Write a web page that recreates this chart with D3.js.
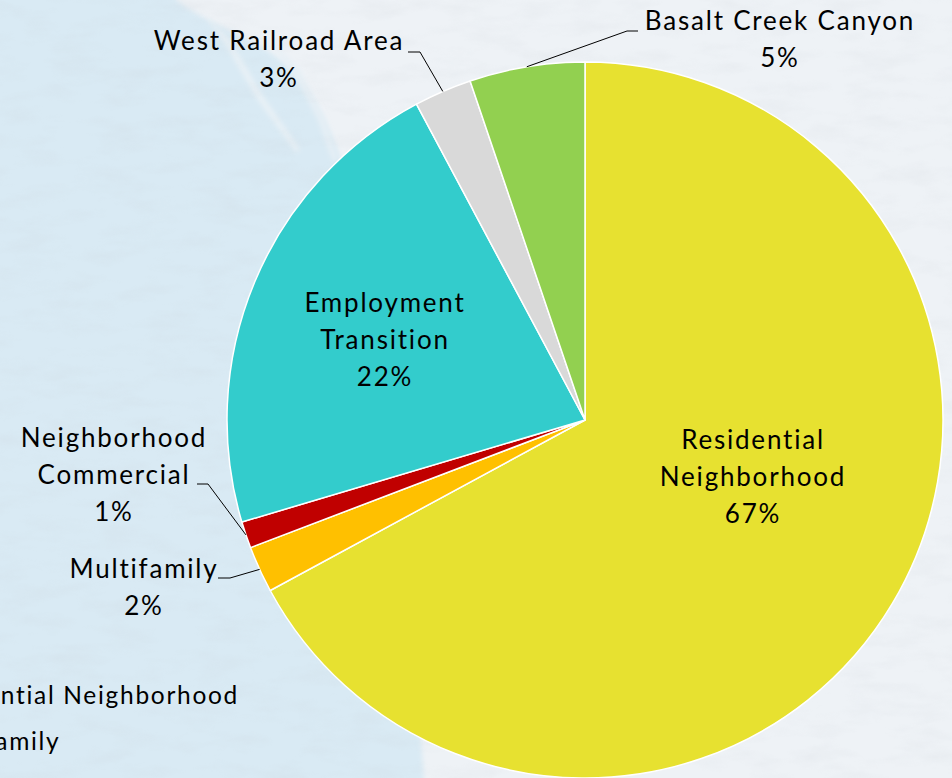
<!DOCTYPE html>
<html>
<head>
<meta charset="utf-8">
<script src="https://cdn.jsdelivr.net/npm/d3@7"></script>
<style>
  html, body { margin: 0; padding: 0; overflow: hidden; background: #edf2f6; }
  svg { display: block; }
  text { font-family: Lato, "Open Sans", sans-serif; fill: #000; font-variant-ligatures: none; font-feature-settings: "liga" 0; }
</style>
</head>
<body>
<svg id="chart" width="952" height="778"></svg>
<script>
// ---- data ----
const categories = ["Residential Neighborhood", "Multifamily", "Neighborhood Commercial",
                    "Employment Transition", "West Railroad Area", "Basalt Creek Canyon"];
const shares = [67.1, 2.1, 1.2, 21.8, 2.6, 5.2];
const colors = ["#e7e130", "#ffc000", "#c00000", "#33cccc", "#d9d9d9", "#92d050"];
const labelLines = [["Residential", "Neighborhood"], ["Multifamily"], ["Neighborhood", "Commercial"],
                    ["Employment", "Transition"], ["West Railroad Area"], ["Basalt Creek Canyon"]];
const legendItems = [0, 1]; // visible legend entries (indexes into categories)

// ---- layout (positions, not data) ----
const W = 952, H = 778;
const cx = 585, cy = 420, R = 358;
const fontSize = 26, lineH = 37, spacing = 1.8;
// label anchor: center x, first baseline y, and optional leader elbow (text-side end x, elbow x, y)
const labelLayout = [
  { x: 753, y: 449 },
  { x: 144, y: 578, lead: [218, 230, 578] },
  { x: 114, y: 447, lead: [197, 208, 484] },
  { x: 385, y: 312 },
  { x: 279, y: 50, lead: [408, 420, 52] },
  { x: 780, y: 30, lead: [638, 627, 31] }
];

const svg = d3.select("#chart");
const defs = svg.append("defs");

// paper texture
const tex = defs.append("filter").attr("id", "paper").attr("x", 0).attr("y", 0).attr("width", "100%").attr("height", "100%");
tex.append("feTurbulence").attr("type", "fractalNoise").attr("baseFrequency", "0.02 0.06").attr("numOctaves", 4).attr("seed", 7).attr("result", "n");
tex.append("feColorMatrix").attr("type", "matrix")
  .attr("values", "0 0 0 0 0.55  0 0 0 0 0.58  0 0 0 0 0.62  0 0 0 -1.1 0.62");
const blur = defs.append("filter").attr("id", "soft").attr("x", "-10%").attr("y", "-10%").attr("width", "120%").attr("height", "120%");
blur.append("feGaussianBlur").attr("stdDeviation", 2.5);

// background
svg.append("rect").attr("width", W).attr("height", H).attr("fill", "#eef2f6");
svg.append("path")
  .attr("d", "M-20,-20 L176,-20 L176,0 C215,30 270,40 300,80 C325,115 340,150 350,190 L400,560 C410,640 420,700 425,800 L-20,800 Z")
  .attr("fill", "#d9eaf4").attr("filter", "url(#soft)");
// lighter streaks in the watercolor
svg.append("path").attr("d", "M205,15 L230,40 L262,95 L290,135 L300,150 L296,152 L258,100 L226,45 Z")
  .attr("fill", "#e9f1f6").attr("filter", "url(#soft)");
svg.append("path").attr("d", "M270,40 L300,70 L325,120 L338,160 L333,162 L318,120 L294,74 Z")
  .attr("fill", "#e6eff5").attr("filter", "url(#soft)");
svg.append("rect").attr("width", W).attr("height", H).attr("filter", "url(#paper)").attr("opacity", 0.25);

// legend (partly off-canvas, as in the reference)
const legend = svg.append("g").attr("class", "legend");
const legTexts = legend.selectAll("text.leg").data(legendItems).join("text")
  .attr("class", "leg")
  .attr("y", (d, i) => 704 + i * 46)
  .style("font-size", "24.5px")
  .style("letter-spacing", "1.7px")
  .text(d => categories[d]);
const w0 = legTexts.nodes()[0].getComputedTextLength();
const legX = 239 - w0;
legTexts.attr("x", legX);
legend.selectAll("rect").data(legendItems).join("rect")
  .attr("x", legX - 30).attr("y", (d, i) => 704 + i * 46 - 16)
  .attr("width", 16).attr("height", 16)
  .attr("fill", d => colors[d]);

// pie
const pie = d3.pie().sort(null).value(d => d).startAngle(0).endAngle(2 * Math.PI);
const arcs = pie(shares);
const arc = d3.arc().innerRadius(0).outerRadius(R);
const g = svg.append("g").attr("transform", `translate(${cx},${cy})`);
g.selectAll("path.slice").data(arcs).join("path")
  .attr("class", "slice")
  .attr("d", arc)
  .attr("fill", (d, i) => colors[i])
  .attr("stroke", "#fff")
  .attr("stroke-width", 1.5)
  .attr("stroke-linejoin", "round");

const total = d3.sum(shares);
const pct = d3.format(".0%");

// leader lines: from slice's outer-arc midpoint to elbow, then short horizontal
const leaders = svg.append("g");
arcs.forEach((a, i) => {
  const L = labelLayout[i];
  if (!L.lead) return;
  const mid = (a.startAngle + a.endAngle) / 2;
  const px = cx + R * Math.sin(mid), py = cy - R * Math.cos(mid);
  const [tx, ex, ey] = L.lead;
  leaders.append("path")
    .attr("d", d3.line()([[tx, ey], [ex, ey], [px, py]]))
    .attr("fill", "none").attr("stroke", "#000").attr("stroke-width", 1);
});

// labels
const labels = svg.append("g");
arcs.forEach((a, i) => {
  const L = labelLayout[i];
  const lines = labelLines[i].concat([pct(a.value / total)]);
  const t = labels.append("text")
    .attr("text-anchor", "middle")
    .style("font-size", fontSize + "px")
    .style("letter-spacing", spacing + "px");
  lines.forEach((s, j) => {
    t.append("tspan").attr("x", L.x).attr("y", L.y + j * lineH).text(s);
  });
});
</script>
</body>
</html>
